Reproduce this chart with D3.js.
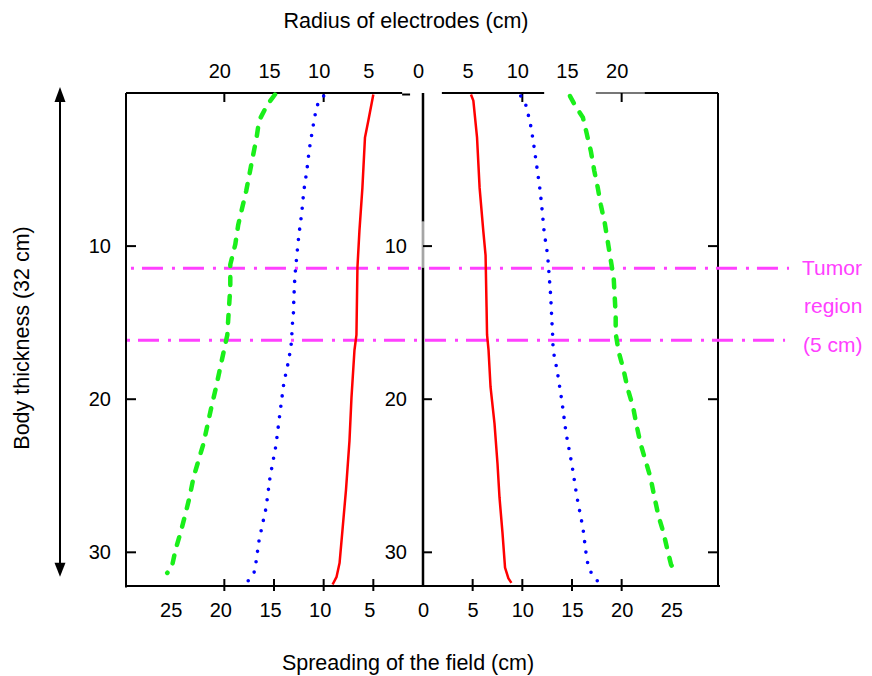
<!DOCTYPE html>
<html><head><meta charset="utf-8">
<script src="https://cdn.jsdelivr.net/npm/d3@7"></script>
<style>body{margin:0;background:#fff} svg{display:block} text{font-family:"Liberation Sans",Arial,sans-serif}</style>
</head><body><svg id="c" width="872" height="676"></svg>
<script>
// ---- data (cm) ----
const redLeftDepth   = [0.1,1.8,2.9,6.2,9.0,11.4,15.8,16.8,19.9,22.7,25.9,28.5,30.7,31.6,32.1];
const redLeftSpread  = [-5.0,-5.5,-5.84,-6.1,-6.4,-6.6,-6.7,-6.9,-7.2,-7.4,-7.75,-8.1,-8.4,-8.7,-9.1];
const redRightDepth  = [0.1,0.5,2.9,6.2,9.0,10.6,14.0,15.8,16.8,19.2,21.6,24.2,26.4,28.7,31.0,31.7,32.0];
const redRightSpread = [4.83,5.07,5.44,5.7,6.07,6.3,6.4,6.45,6.6,6.8,7.2,7.5,7.7,8.0,8.26,8.6,8.9];
const blueLeftDepth   = [0.2,0.85,2.3,3.7,5.1,6.4,7.8,9.3,10.6,12.0,13.4,14.7,15.3,16.1,17.4,18.9,20.9,23.0,25.1,27.1,29.2,30.6,31.3,32.0];
const blueLeftSpread  = [-10.0,-10.7,-11.1,-11.45,-11.7,-12.0,-12.2,-12.5,-12.7,-12.9,-13.0,-13.06,-13.2,-13.2,-13.5,-14.0,-14.4,-14.8,-15.4,-15.8,-16.5,-16.8,-17.0,-17.75];
const blueRightDepth  = [0.2,0.85,2.3,3.6,5.0,6.4,7.7,9.1,10.6,11.9,13.3,14.7,15.9,16.8,18.1,20.2,22.2,24.3,26.4,28.4,30.5,31.2,31.9];
const blueRightSpread = [9.84,10.4,10.9,11.2,11.5,11.8,12.0,12.2,12.55,12.7,12.86,12.96,13.06,13.1,13.5,14.0,14.4,15.0,15.5,16.1,16.5,16.8,17.6];
const greenLeftDepth   = [0.1,0.8,1.8,2.9,4.05,5.4,6.4,7.5,8.6,9.9,11.2,12.7,14.7,15.8,16.1,17.0,18.2,19.4,20.5,21.7,22.9,24.0,25.1,26.4,27.7,28.7,29.8,31.0,31.35];
const greenLeftSpread  = [-14.9,-15.7,-16.5,-16.75,-17.1,-17.5,-17.8,-18.2,-18.6,-18.9,-19.4,-19.4,-19.6,-19.7,-19.8,-20.1,-20.5,-20.9,-21.3,-21.7,-22.1,-22.6,-23.1,-23.5,-24.0,-24.4,-24.9,-25.3,-25.75];
const greenRightDepth  = [0.2,0.8,1.6,2.7,3.8,5.1,6.2,7.3,8.5,9.7,10.9,12.1,13.3,14.5,15.7,16.9,18.1,19.3,20.5,21.7,22.9,24.0,25.1,26.4,27.6,28.7,29.8,30.8,31.3];
const greenRightSpread = [14.8,15.3,16.1,16.5,16.9,17.25,17.6,17.9,18.3,18.6,18.9,19.2,19.3,19.4,19.4,19.7,20.2,20.6,21.15,21.5,21.9,22.4,22.9,23.3,23.7,24.2,24.6,24.97,25.45];

const tumorDepths = [11.45, 16.15];
const tumorLabels = ["Tumor", "region", "(5 cm)"];
const bottomLabelValues = [-25,-20,-15,-10,-5,0,5,10,15,20,25];
const bottomTickValues  = [-20,-15,-10,-5,5,10,15,20];
const topLabelValues    = [-20,-15,-10,-5,0,5,10,15,20];
const topTickValues     = [-20,-10,10,20];
const depthTickValues   = [10,20,30];
const topTitle = "Radius of electrodes (cm)";
const bottomTitle = "Spreading of the field (cm)";
const leftTitle = "Body thickness (32 cm)";

// ---- scales ----
const svg = d3.select("#c");
const x = d3.scaleLinear().domain([-29.9, 29.7]).range([126, 718]);
const y = d3.scaleLinear().domain([0, 32.2]).range([93, 586]);
const xL = x.domain()[0], xR = x.domain()[1];
const magenta = "#ff40ff";
const FONT = '"Liberation Sans",Arial,sans-serif';

// ---- frame ----
const frame = svg.append("g").attr("stroke", "#000").attr("fill", "none");
frame.append("line").attr("x1", x(xL)).attr("x2", x(xL)).attr("y1", y(0)).attr("y2", y(32.3)).attr("stroke-width", 2);
frame.append("line").attr("x1", x(xR)).attr("x2", x(xR)).attr("y1", y(0)).attr("y2", y(32.2)).attr("stroke-width", 2);
frame.append("line").attr("x1", x(xL)).attr("x2", x(xR) + 2).attr("y1", y(32.2)).attr("y2", y(32.2)).attr("stroke-width", 2);
// top border (with the gaps of the original)
const topSegs = [[xL, -2.1, 0, "#000"], [-2.1, -1.3, 1.5, "#000"], [1.9, 12.2, 0, "#000"], [17.4, 22.3, 0, "#777"], [22.3, xR, 0, "#000"]];
topSegs.forEach(s => frame.append("line").attr("x1", x(s[0])).attr("x2", x(s[1]))
  .attr("y1", y(0) + s[2]).attr("y2", y(0) + s[2]).attr("stroke", s[3]).attr("stroke-width", 2));
// center axis
frame.append("line").attr("x1", x(0)).attr("x2", x(0)).attr("y1", y(0)).attr("y2", y(32.2)).attr("stroke-width", 2.5);
frame.append("line").attr("x1", x(0)).attr("x2", x(0)).attr("y1", y(8.4)).attr("y2", y(11.4)).attr("stroke", "#fff").attr("stroke-width", 3);
frame.append("line").attr("x1", x(0)).attr("x2", x(0)).attr("y1", y(8.4)).attr("y2", y(11.4)).attr("stroke", "#888").attr("stroke-width", 1.5);

// ---- ticks ----
const tk = svg.append("g").attr("stroke", "#000").attr("stroke-width", 2);
depthTickValues.forEach(d => {
  tk.append("line").attr("x1", x(xL)).attr("x2", x(xL) + 10).attr("y1", y(d)).attr("y2", y(d));
  tk.append("line").attr("x1", x(0)).attr("x2", x(0) + 9).attr("y1", y(d)).attr("y2", y(d));
  tk.append("line").attr("x1", x(xR) - 10).attr("x2", x(xR)).attr("y1", y(d)).attr("y2", y(d));
});
bottomTickValues.forEach(v => tk.append("line").attr("x1", x(v)).attr("x2", x(v)).attr("y1", y(32.2) - 7).attr("y2", y(32.2) + 5));
topTickValues.forEach(v => tk.append("line").attr("x1", x(v)).attr("x2", x(v)).attr("y1", y(0)).attr("y2", y(0) + 9));

// ---- axis labels via d3 axes ----
function styleAxis(g) {
  g.attr("font-size", 20).attr("font-family", FONT);
  g.select(".domain").remove();
  g.selectAll(".tick line").remove();
  g.selectAll("text").attr("font-size", 20).attr("fill", "#000");
}
svg.append("g").attr("transform", `translate(0,${y(32.2)})`)
  .call(d3.axisBottom(x).tickValues(bottomLabelValues).tickFormat(d => Math.abs(d)).tickSize(0).tickPadding(17))
  .call(styleAxis).selectAll("text").attr("dx", d => d < 0 ? -4 : 0);
svg.append("g").attr("transform", `translate(0,${y(0)})`)
  .call(d3.axisTop(x).tickValues(topLabelValues).tickFormat(d => Math.abs(d)).tickSize(0).tickPadding(15))
  .call(styleAxis).selectAll("text").attr("dx", -5);
svg.append("g").attr("transform", `translate(${x(xL)},0)`)
  .call(d3.axisLeft(y).tickValues(depthTickValues).tickSize(0).tickPadding(15)).call(styleAxis);
svg.append("g").attr("transform", `translate(${x(0)},0)`)
  .call(d3.axisLeft(y).tickValues(depthTickValues).tickSize(0).tickPadding(16)).call(styleAxis);

// ---- tumor region lines ----
const tumorStart = [-29.4, -29.8], tumorEnd = [36.85, 36.45];
tumorDepths.forEach((d, i) => {
  svg.append("line").attr("x1", x(tumorStart[i])).attr("x2", x(tumorEnd[i]))
    .attr("y1", y(d)).attr("y2", y(d)).attr("stroke", magenta).attr("stroke-width", 3)
    .attr("stroke-dasharray", "3 8 21 9");
});
[[tumorLabels[0], 802, y(tumorDepths[0]) + 7], [tumorLabels[1], 804, 313], [tumorLabels[2], 803, y(tumorDepths[1]) + 12]]
  .forEach(t => svg.append("text").attr("x", t[1]).attr("y", t[2]).attr("fill", magenta).attr("font-size", 21).text(t[0]));

// ---- curves ----
const line = d3.line().x(d => x(d[0])).y(d => y(d[1]));
function series(spread, depth) { return spread.map((v, i) => [v, depth[i]]); }
const curves = [
  [redLeftSpread, redLeftDepth, "#ff0000", 2.5, null, "butt"],
  [redRightSpread, redRightDepth, "#ff0000", 2.5, null, "butt"],
  [blueLeftSpread, blueLeftDepth, "#0000ff", 3.6, "0 10.5", "round"],
  [blueRightSpread, blueRightDepth, "#0000ff", 3.6, "0 10.5", "round"],
  [greenLeftSpread, greenLeftDepth, "#1aef1a", 4.5, "8 11", "round"],
  [greenRightSpread, greenRightDepth, "#1aef1a", 4.5, "8 11", "round"]
];
curves.forEach(c => {
  svg.append("path").datum(series(c[0], c[1])).attr("d", line)
    .attr("fill", "none").attr("stroke", c[2]).attr("stroke-width", c[3])
    .attr("stroke-dasharray", c[4]).attr("stroke-linecap", c[5]).attr("stroke-linejoin", "round");
});

// ---- double arrow ----
const ax = 60, yTop = y(-0.4), yBot = y(31.6);
svg.append("line").attr("x1", ax).attr("x2", ax).attr("y1", yTop + 10).attr("y2", yBot - 10).attr("stroke", "#000").attr("stroke-width", 2);
svg.append("path").attr("d", `M${ax},${yTop} L${ax - 5.5},${yTop + 15} L${ax + 5.5},${yTop + 15} Z`).attr("fill", "#000");
svg.append("path").attr("d", `M${ax},${yBot} L${ax - 5.5},${yBot - 14} L${ax + 5.5},${yBot - 14} Z`).attr("fill", "#000");

// ---- titles ----
svg.append("text").attr("x", x(0) - 17).attr("y", 28).attr("text-anchor", "middle").attr("font-size", 21.5).text(topTitle);
svg.append("text").attr("x", x(0) - 15).attr("y", 670).attr("text-anchor", "middle").attr("font-size", 21.5).text(bottomTitle);
svg.append("text").attr("transform", `translate(29,${y(16)}) rotate(-90)`).attr("text-anchor", "middle").attr("font-size", 21.5).text(leftTitle);
</script></body></html>
